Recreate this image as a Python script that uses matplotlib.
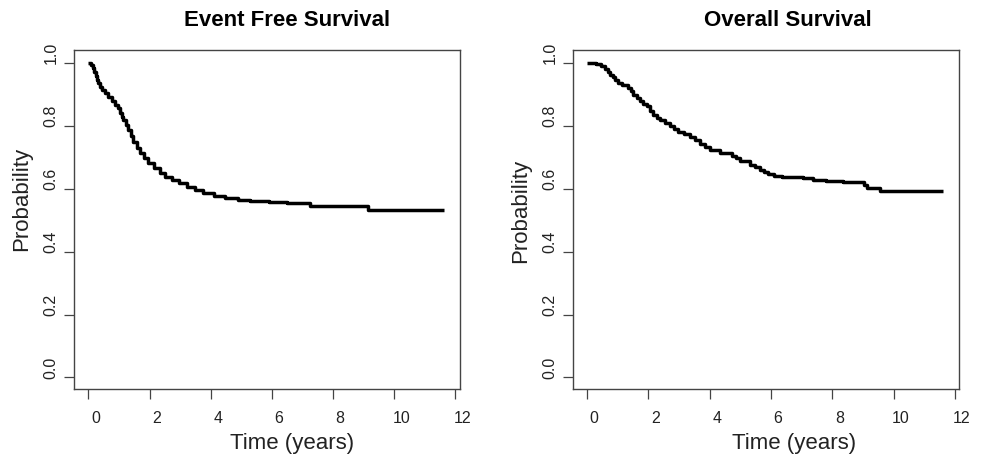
import matplotlib
matplotlib.use("Agg")
import matplotlib.pyplot as plt
import matplotlib.transforms as mtransforms
import numpy as np

plt.rcParams['font.family'] = ['Liberation Sans', 'DejaVu Sans']

# Event free survival (Kaplan-Meier estimate)
efs_t = [0.0, 0.05, 0.1, 0.16, 0.2, 0.24, 0.27, 0.32, 0.38, 0.46, 0.55, 0.65, 0.76, 0.86,
         0.98, 1.04, 1.1, 1.14, 1.22, 1.31, 1.39, 1.47, 1.58, 1.69, 1.82, 1.96, 2.15, 2.34,
         2.52, 2.72, 2.95, 3.21, 3.48, 3.76, 4.1, 4.47, 4.9, 5.28, 5.9, 6.48, 7.25, 9.15, 11.63]
efs_s = [1.0, 1.0, 0.993, 0.984, 0.972, 0.958, 0.947, 0.936, 0.925, 0.914, 0.904, 0.891, 0.878, 0.868,
         0.857, 0.84, 0.828, 0.819, 0.803, 0.788, 0.769, 0.750, 0.731, 0.713, 0.697, 0.682, 0.666, 0.650,
         0.639, 0.628, 0.617, 0.607, 0.597, 0.587, 0.578, 0.570, 0.565, 0.562, 0.559, 0.555, 0.546, 0.534, 0.534]

# Overall survival
os_t = [0.0, 0.3, 0.45, 0.59, 0.68, 0.75, 0.83, 0.91, 1.02, 1.13, 1.35, 1.43, 1.51, 1.62, 1.73,
        1.84, 1.95, 2.05, 2.16, 2.27, 2.38, 2.55, 2.71, 2.85, 2.98, 3.17, 3.36, 3.52, 3.68, 3.85,
        4.01, 4.34, 4.72, 4.85, 4.99, 5.31, 5.48, 5.64, 5.78, 5.91, 6.1, 6.35, 7.05, 7.38, 7.81,
        8.36, 9.05, 9.12, 9.55, 11.63]
os_s = [1.0, 0.997, 0.99, 0.982, 0.972, 0.963, 0.955, 0.947, 0.938, 0.931, 0.920, 0.91, 0.899, 0.888, 0.878,
        0.870, 0.862, 0.848, 0.836, 0.826, 0.820, 0.810, 0.800, 0.790, 0.782, 0.774, 0.766, 0.755, 0.742, 0.733,
        0.722, 0.713, 0.705, 0.697, 0.687, 0.676, 0.668, 0.660, 0.653, 0.647, 0.641, 0.637, 0.634, 0.629, 0.625,
        0.622, 0.612, 0.602, 0.594, 0.594]

titles = ["Event Free Survival", "Overall Survival"]
x_ticks = [0, 2, 4, 6, 8, 10, 12]
y_ticks = [0.0, 0.2, 0.4, 0.6, 0.8, 1.0]

fig = plt.figure(figsize=(9.81, 4.62), dpi=100)
axes = [fig.add_axes([0.0754, 0.158, 0.3935, 0.734]),
        fig.add_axes([0.5838, 0.158, 0.3942, 0.734])]

# text in the original sits a little off-centre (axes fractions)
title_x = [0.553, 0.556]
xlab_x = [0.566, 0.572]
ylab_y = [0.56, 0.525]

data = [(efs_t, efs_s), (os_t, os_s)]
txt_col = '#222222'
for i, ax in enumerate(axes):
    t, s = data[i]
    ax.step(t, s, where='post', color='black', linewidth=2.5, solid_capstyle='butt')
    ax.set_xlim(-0.47, 12.15)
    ax.set_ylim(-0.037, 1.042)
    ax.set_xticks(x_ticks)
    ax.set_yticks(y_ticks)
    ax.set_yticklabels(["%.1f" % v for v in y_ticks], rotation=90, va='center')
    ax.tick_params(direction='out', length=7, width=0.9, colors='#444444',
                   labelsize=11.5, labelcolor=txt_col)
    ax.tick_params(axis='x', pad=9)
    ax.tick_params(axis='y', pad=4)
    # shift tick labels slightly right / up like the reference
    dx = mtransforms.ScaledTranslation(0.07, 0, fig.dpi_scale_trans)
    dy = mtransforms.ScaledTranslation(0, 0.10, fig.dpi_scale_trans)
    for lab in ax.get_xticklabels():
        lab.set_transform(lab.get_transform() + dx)
    for lab in ax.get_yticklabels():
        lab.set_transform(lab.get_transform() + dy)
    for sp in ax.spines.values():
        sp.set_color('#444444')
        sp.set_linewidth(1.0)
    ax.set_title(titles[i], fontsize=16, fontweight='bold', pad=17, color='black', x=title_x[i])
    ax.set_xlabel("Time (years)", fontsize=16, color=txt_col, labelpad=5)
    ax.set_ylabel("Probability", fontsize=16, color=txt_col, labelpad=8)
    ax.xaxis.label.set_x(xlab_x[i])
    ax.yaxis.label.set_y(ylab_y[i])

fig.savefig("out.png", dpi=100)
